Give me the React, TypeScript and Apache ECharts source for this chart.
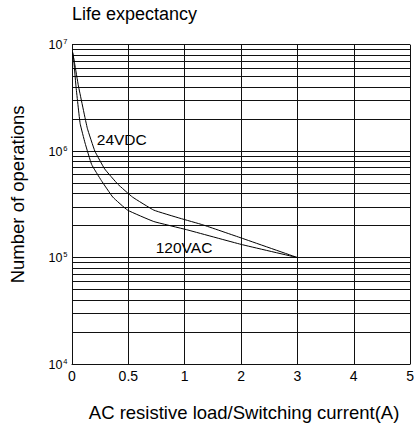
import React, { useEffect, useRef } from "react";
import * as echarts from "echarts";

const xTickValues = [0, 0.5, 1, 2, 3, 4, 5];
const xTickLabels = ["0", "0.5", "1", "2", "3", "4", "5"];

const current24VDC = [0.005, 0.023, 0.057, 0.136, 0.203, 0.29, 0.406, 0.537, 0.726, 0.958, 1.322, 2, 3];
const ops24VDC = [8.5e6, 6.7e6, 4.1e6, 1.64e6, 1.0e6, 6.8e5, 4.9e5, 3.7e5, 2.79e5, 2.34e5, 2.03e5, 1.53e5, 1.0e5];

const current120VAC = [0.005, 0.014, 0.035, 0.072, 0.116, 0.174, 0.26, 0.362, 0.493, 0.726, 1.03, 2, 3];
const ops120VAC = [8.5e6, 7.5e6, 4.1e6, 1.82e6, 1.19e6, 7.5e5, 5.3e5, 3.7e5, 2.79e5, 2.18e5, 1.83e5, 1.33e5, 1.0e5];

const seriesNames = ["24VDC", "120VAC"];
const labelX = [0.22, 0.743];
const labelY = [1.28e6, 1.25e5];

const decades = [1e4, 1e5, 1e6];
const minorMultipliers = [2, 3, 4, 5, 6, 7, 8, 9];

function toPos(x: number): number {
  for (let i = 0; i < xTickValues.length - 1; i++) {
    const a = xTickValues[i];
    const b = xTickValues[i + 1];
    if (x <= b) return i + (x - a) / (b - a);
  }
  return xTickValues.length - 1;
}

const FONT = "Liberation Sans, Arial, Helvetica, sans-serif";

export default function App() {
  const ref = useRef<HTMLDivElement>(null);
  useEffect(() => {
    if (!ref.current) return;
    const chart = echarts.init(ref.current, undefined, { renderer: "svg" });
    const minorLines: any[] = [];
    decades.forEach((d) => minorMultipliers.forEach((m) => minorLines.push({ yAxis: d * m })));
    const lineColor = "#111";
    const mkSeries = (name: string, xs: number[], ys: number[], idx: number, withGrid: boolean) => ({
      type: "line",
      name,
      data: xs.map((x, i) => [toPos(x), ys[i]]),
      showSymbol: false,
      symbol: "none",
      smooth: 0.1,
      lineStyle: { color: "#000", width: 1 },
      z: 5,
      markPoint: {
        symbol: "rect",
        symbolSize: 0,
        silent: true,
        data: [
          {
            coord: [toPos(labelX[idx]), labelY[idx]],
            label: {
              show: true,
              formatter: name,
              position: "right",
              distance: 0,
              color: "#000",
              fontSize: 15.5,
              fontFamily: FONT,
            },
          },
        ],
      },
      markLine: withGrid
        ? {
            silent: true,
            symbol: ["none", "none"],
            label: { show: false },
            lineStyle: { color: lineColor, width: 1, type: "solid" },
            z: 1,
            data: minorLines,
          }
        : undefined,
    });
    chart.setOption({
      animation: false,
      backgroundColor: "#fff",
      title: {
        text: "Life expectancy",
        left: 67,
        top: 0,
        textStyle: { fontSize: 18, fontWeight: "normal", color: "#000", fontFamily: FONT },
      },
      grid: { left: 66.7, right: 5.7, top: 44.7, bottom: 57 },
      xAxis: {
        type: "value",
        min: 0,
        max: xTickValues.length - 1,
        interval: 1,
        name: "AC resistive load/Switching current(A)",
        nameLocation: "middle",
        nameGap: 39,
        nameTextStyle: { fontSize: 18.5, color: "#000", fontFamily: FONT, padding: [0, 0, 0, 6] },
        axisLine: { show: true, lineStyle: { color: lineColor, width: 1 } },
        axisTick: { show: false },
        axisLabel: {
          formatter: (v: number) => xTickLabels[Math.round(v)] ?? "",
          fontSize: 14,
          color: "#000",
          margin: 5,
          fontFamily: FONT,
        },
        splitLine: { show: true, lineStyle: { color: lineColor, width: 1 } },
      },
      yAxis: {
        type: "log",
        logBase: 10,
        min: 1e4,
        max: 1e7,
        name: "Number of operations",
        nameLocation: "middle",
        nameRotate: 90,
        nameGap: 45,
        nameTextStyle: { fontSize: 18.5, color: "#000", fontFamily: FONT, padding: [0, 0, 0, 20] },
        axisLine: { show: true, lineStyle: { color: lineColor, width: 1 } },
        axisTick: { show: false },
        axisLabel: {
          margin: 4.5,
          formatter: (v: number) => `{b|10}{e|${Math.round(Math.log10(v))}}`,
          rich: {
            b: { fontSize: 12.5, color: "#000", fontFamily: FONT, lineHeight: 14, verticalAlign: "bottom" },
            e: { fontSize: 7.5, color: "#000", fontFamily: FONT, lineHeight: 8, verticalAlign: "top", padding: [0, 0, 0, 1] },
          },
        },
        splitLine: { show: true, lineStyle: { color: lineColor, width: 1 } },
      },
      series: [
        mkSeries(seriesNames[0], current24VDC, ops24VDC, 0, true),
        mkSeries(seriesNames[1], current120VAC, ops120VAC, 1, false),
      ],
    });
    return () => chart.dispose();
  }, []);
  return (
    <div
      ref={ref}
      style={{ position: "absolute", left: 0, top: 0, width: 417, height: 427 }}
    />
  );
}
